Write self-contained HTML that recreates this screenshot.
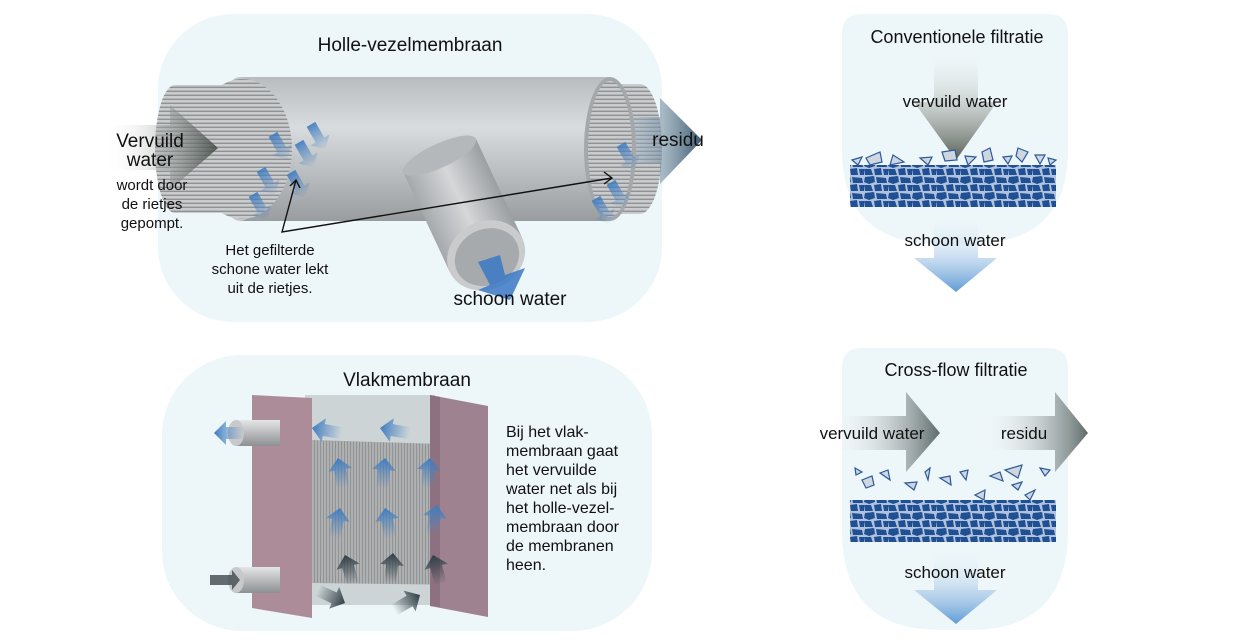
<!DOCTYPE html>
<html><head><meta charset="utf-8"><style>
html,body{margin:0;padding:0;background:#fff;}
svg{display:block;font-family:"Liberation Sans Narrow","Liberation Sans",sans-serif;}
</style></head><body>
<svg width="1233" height="644" viewBox="0 0 1233 644" xmlns="http://www.w3.org/2000/svg">
<defs>
<linearGradient id="cyl" x1="0" y1="0" x2="0" y2="1">
<stop offset="0" stop-color="#b9bcbf"/><stop offset="0.35" stop-color="#d9dcde"/><stop offset="1" stop-color="#9a9da0"/></linearGradient>
<pattern id="stripes" width="4" height="4" patternUnits="userSpaceOnUse"><rect width="4" height="4" fill="#c9cbcd"/><rect y="2.6" width="4" height="1.4" fill="#8f9295"/></pattern>
<pattern id="vstripes" width="3" height="3" patternUnits="userSpaceOnUse"><rect width="3" height="3" fill="#aeb0b2"/><rect x="2" width="1" height="3" fill="#909294"/></pattern>
<linearGradient id="darkArrowH" x1="0" y1="0" x2="1" y2="0"><stop offset="0" stop-color="#fff" stop-opacity="0"/><stop offset="1" stop-color="#5d6b6a"/></linearGradient>
<linearGradient id="darkArrowV" x1="0" y1="0" x2="0" y2="1"><stop offset="0" stop-color="#fff" stop-opacity="0"/><stop offset="1" stop-color="#555e55"/></linearGradient>
<linearGradient id="blueArrowV" x1="0" y1="0" x2="0" y2="1"><stop offset="0" stop-color="#fff" stop-opacity="0"/><stop offset="1" stop-color="#5f9bd5"/></linearGradient>
<linearGradient id="upBlue" x1="0" y1="1" x2="0" y2="0"><stop offset="0" stop-color="#4d86c4" stop-opacity="0"/><stop offset="1" stop-color="#3f7cc0"/></linearGradient>
<linearGradient id="upDark" x1="0" y1="1" x2="0" y2="0"><stop offset="0" stop-color="#2f3f46" stop-opacity="0"/><stop offset="1" stop-color="#2f3f46"/></linearGradient>
<linearGradient id="residuH" x1="0" y1="0" x2="1" y2="0"><stop offset="0" stop-color="#9fb8cc" stop-opacity="0.3"/><stop offset="1" stop-color="#3e5a6e"/></linearGradient>
<linearGradient id="inH" x1="0" y1="0" x2="1" y2="0"><stop offset="0" stop-color="#fff" stop-opacity="0"/><stop offset="1" stop-color="#3d4540"/></linearGradient>
<linearGradient id="pipe" x1="0" y1="0" x2="1" y2="0"><stop offset="0" stop-color="#a6a9ac"/><stop offset="0.5" stop-color="#d5d7d9"/><stop offset="1" stop-color="#9c9fa2"/></linearGradient>
<linearGradient id="pipeH" x1="0" y1="0" x2="0" y2="1"><stop offset="0" stop-color="#e4e5e6"/><stop offset="1" stop-color="#8d9093"/></linearGradient>
<pattern id="rocks" width="24" height="16" patternUnits="userSpaceOnUse"><rect width="24" height="16" fill="#fff"/>
<polygon points="1,1 10,0 11,6 5,8 0,6" fill="#1f4f96"/><polygon points="12,1 22,2 23,7 13,7" fill="#1f4f96"/><polygon points="0,9 7,9 9,15 1,15" fill="#1f4f96"/><polygon points="10,9 17,8 18,15 11,15" fill="#1f4f96"/><polygon points="19,9 24,9 24,15 20,15" fill="#1f4f96"/></pattern>
<g id="upB"><polygon points="-6,30 6,30 6,12 12,12 0,0 -12,12 -6,12" fill="url(#upBlue)"/></g>
<g id="upD"><polygon points="-6,30 6,30 6,12 12,12 0,0 -12,12 -6,12" fill="url(#upDark)"/></g>
<g id="dnB"><polygon points="-5,-18 5,-18 5,0 11,0 0,11 -11,0 -5,0" fill="url(#upBlue)" transform="rotate(0)"/></g>
</defs>

<!-- Panels -->
<rect x="158" y="14" width="504" height="308" rx="75" fill="#edf6f9"/>
<rect x="162" y="355" width="490" height="276" rx="80" fill="#edf6f9"/>
<path d="M862,14 H1048 Q1068,14 1068,34 V150 Q1068,244 970,244 H940 Q842,244 842,150 V34 Q842,14 862,14Z" fill="#edf6f9"/>
<path d="M862,348 H1048 Q1068,348 1068,368 V530 Q1068,630 970,630 H940 Q842,630 842,530 V368 Q842,348 862,348Z" fill="#edf6f9"/>

<!-- Hollow fibre -->
<text x="410" y="51" font-size="19" text-anchor="middle" fill="#111">Holle-vezelmembraan</text>
<rect x="600" y="84" width="40" height="130" fill="url(#stripes)"/>
<ellipse cx="640" cy="149" rx="22" ry="65" fill="url(#stripes)"/>
<polygon points="630,117 660,117 660,98 702,140 660,184 660,163 630,163" fill="url(#residuH)"/>
<rect x="240" y="77" width="370" height="144" fill="url(#cyl)"/>
<ellipse cx="610" cy="149" rx="26" ry="72" fill="#a5a8ab"/>
<ellipse cx="610" cy="149" rx="22" ry="68" fill="url(#stripes)"/>
<ellipse cx="240" cy="149" rx="26" ry="72" fill="#c5c8ca"/>
<rect x="175" y="85" width="60" height="128" fill="url(#stripes)"/>
<ellipse cx="175" cy="149" rx="20" ry="64" fill="url(#stripes)"/>
<ellipse cx="242" cy="149" rx="50" ry="70" fill="url(#stripes)"/>
<polygon points="105,125 170,125 170,105 218,148 170,190 170,170 105,170" fill="url(#inH)" opacity="0.85"/>
<g opacity="0.9">
<use href="#dnB" transform="translate(282,150) rotate(-30)"/><use href="#dnB" transform="translate(308,158) rotate(-30)"/><use href="#dnB" transform="translate(320,140) rotate(-30)"/>
<use href="#dnB" transform="translate(270,185) rotate(-30)"/><use href="#dnB" transform="translate(300,188) rotate(-30)"/><use href="#dnB" transform="translate(262,210) rotate(-30)"/>
<use href="#dnB" transform="translate(630,160) rotate(-30)"/><use href="#dnB" transform="translate(620,198) rotate(-30)"/><use href="#dnB" transform="translate(605,214) rotate(-30)"/></g>
<!-- tube -->
<g transform="rotate(-25 465 210)">
<rect x="425" y="150" width="80" height="110" fill="url(#pipe)"/>
<ellipse cx="465" cy="150" rx="40" ry="12" fill="#b5b8bb"/>
<ellipse cx="465" cy="260" rx="40" ry="34" fill="#c9cbcd"/>
<ellipse cx="465" cy="262" rx="33" ry="28" fill="#a7aaad"/>
</g>
<polygon points="478,262 500,255 505,275 525,268 510,300 478,290 490,285" fill="#3a78c6" opacity="0.85"/>
<polyline points="296,180 282,232 612,178" fill="none" stroke="#111" stroke-width="1.4"/>
<polyline points="290,186 296,180 300,188" fill="none" stroke="#111" stroke-width="1.4"/>
<polyline points="604,172 612,178 604,184" fill="none" stroke="#111" stroke-width="1.4"/>
<text font-size="19" fill="#111" text-anchor="middle"><tspan x="150" y="147">Vervuild</tspan><tspan x="150" y="166">water</tspan></text>
<text font-size="15" fill="#111" text-anchor="middle"><tspan x="152" y="190">wordt door</tspan><tspan x="152" y="209">de rietjes</tspan><tspan x="152" y="228">gepompt.</tspan></text>
<text font-size="15" fill="#111" text-anchor="middle"><tspan x="270" y="255">Het gefilterde</tspan><tspan x="270" y="274">schone water lekt</tspan><tspan x="270" y="293">uit de rietjes.</tspan></text>
<text x="510" y="305" font-size="19" fill="#111" text-anchor="middle">schoon water</text>
<text x="678" y="146" font-size="19" fill="#111" text-anchor="middle">residu</text>

<!-- Flat membrane -->
<text x="407" y="386" font-size="19" text-anchor="middle" fill="#111">Vlakmembraan</text>
<rect x="305" y="395" width="130" height="210" fill="#ccd4d6"/>
<polygon points="312,440 472,445 472,585 312,583" fill="url(#vstripes)"/>
<polygon points="252,395 312,398 312,618 252,608" fill="#ad8c9a"/>
<polygon points="430,395 488,406 488,617 430,606" fill="#9e8290"/>
<polygon points="430,395 430,606 440,607 440,397" fill="#8e7180"/>
<rect x="235" y="420" width="45" height="26" fill="url(#pipeH)"/><ellipse cx="236" cy="433" rx="8" ry="13" fill="#c7c9cb"/>
<rect x="235" y="567" width="45" height="26" fill="url(#pipeH)"/><ellipse cx="236" cy="580" rx="8" ry="13" fill="#c7c9cb"/>
<use href="#upB" transform="translate(214,433) rotate(-90)"/>
<polygon points="210,575 232,575 232,570 240,580 232,590 232,585 210,585" fill="#3e4a4e" opacity="0.8"/>
<use href="#upB" transform="translate(312,428) rotate(-80)"/><use href="#upB" transform="translate(380,428) rotate(-80)"/>
<use href="#upB" transform="translate(338,458) rotate(-10)"/><use href="#upB" transform="translate(385,458) rotate(5)"/><use href="#upB" transform="translate(430,458) rotate(5)"/>
<use href="#upB" transform="translate(340,508) rotate(10)"/><use href="#upB" transform="translate(385,508) rotate(-10)"/><use href="#upB" transform="translate(437,505) rotate(10)"/>
<use href="#upD" transform="translate(345,555) rotate(-15)"/><use href="#upD" transform="translate(393,553) rotate(5)"/><use href="#upD" transform="translate(433,555) rotate(-15)"/>
<use href="#upD" transform="translate(345,603) rotate(115)"/><use href="#upD" transform="translate(420,595) rotate(60)"/>
<text font-size="16" fill="#111"><tspan x="506" y="437">Bij het vlak-</tspan><tspan x="506" y="456">membraan gaat</tspan><tspan x="506" y="475">het vervuilde</tspan><tspan x="506" y="494">water net als bij</tspan><tspan x="506" y="513">het holle-vezel-</tspan><tspan x="506" y="532">membraan door</tspan><tspan x="506" y="551">de membranen</tspan><tspan x="506" y="570">heen.</tspan></text>

<!-- Conventional -->
<text x="957" y="43" font-size="18" text-anchor="middle" fill="#111">Conventionele filtratie</text>
<polygon points="934,46 978,46 978,102 997,102 956,160 914,102 934,102" fill="url(#darkArrowV)"/>
<text x="955" y="107" font-size="17" text-anchor="middle" fill="#111">vervuild water</text>
<rect x="850" y="165" width="206" height="42" fill="url(#rocks)"/>
<rect x="850" y="165" width="206" height="42" fill="#1f4f96" opacity="0.35"/>
<g fill="#cfd6e0" stroke="#2a5a9a" stroke-width="1.2">
<polygon points="852,160 862,157 858,165"/><polygon points="866,158 880,152 882,162 870,165"/><polygon points="893,155 904,162 890,165"/><polygon points="920,158 932,157 928,165"/><polygon points="942,152 955,150 957,160 945,161"/><polygon points="965,156 976,157 968,165"/><polygon points="982,152 990,148 993,160 984,162"/><polygon points="1018,148 1028,152 1022,162 1016,156"/><polygon points="1035,155 1045,155 1040,164"/><polygon points="1048,158 1056,160 1050,165"/><polygon points="1003,157 1012,156 1008,164"/></g>
<polygon points="934,210 978,210 978,258 997,258 956,292 914,258 934,258" fill="url(#blueArrowV)"/>
<text x="955" y="246" font-size="17" text-anchor="middle" fill="#111">schoon water</text>

<!-- Cross-flow -->
<text x="956" y="376" font-size="18" text-anchor="middle" fill="#111">Cross-flow filtratie</text>
<polygon points="830,416 906,416 906,392 940,433 906,472 906,450 830,450" fill="url(#darkArrowH)"/>
<polygon points="980,416 1055,416 1055,392 1088,433 1055,472 1055,450 980,450" fill="url(#darkArrowH)"/>
<text x="872" y="439" font-size="17" text-anchor="middle" fill="#111">vervuild water</text>
<text x="1024" y="439" font-size="17" text-anchor="middle" fill="#111">residu</text>
<g fill="#cfd6e0" stroke="#2a5a9a" stroke-width="1.2">
<polygon points="855,468 862,472 856,475"/><polygon points="862,480 872,476 874,485 866,488"/><polygon points="880,473 888,470 890,480"/><polygon points="905,483 917,482 914,490"/><polygon points="925,472 930,468 928,480"/><polygon points="940,478 950,476 951,485"/><polygon points="960,472 968,470 966,480"/><polygon points="975,495 985,490 984,500"/><polygon points="990,476 1000,472 1003,481"/><polygon points="1005,470 1022,465 1018,478"/><polygon points="1012,485 1022,482 1018,490"/><polygon points="1025,495 1035,490 1030,500"/><polygon points="1040,468 1050,470 1045,476"/></g>
<rect x="850" y="500" width="206" height="42" fill="url(#rocks)"/>
<rect x="850" y="500" width="206" height="42" fill="#1f4f96" opacity="0.35"/>
<polygon points="934,545 978,545 978,590 997,590 956,624 914,590 934,590" fill="url(#blueArrowV)"/>
<text x="955" y="578" font-size="17" text-anchor="middle" fill="#111">schoon water</text>
</svg>
</body></html>
